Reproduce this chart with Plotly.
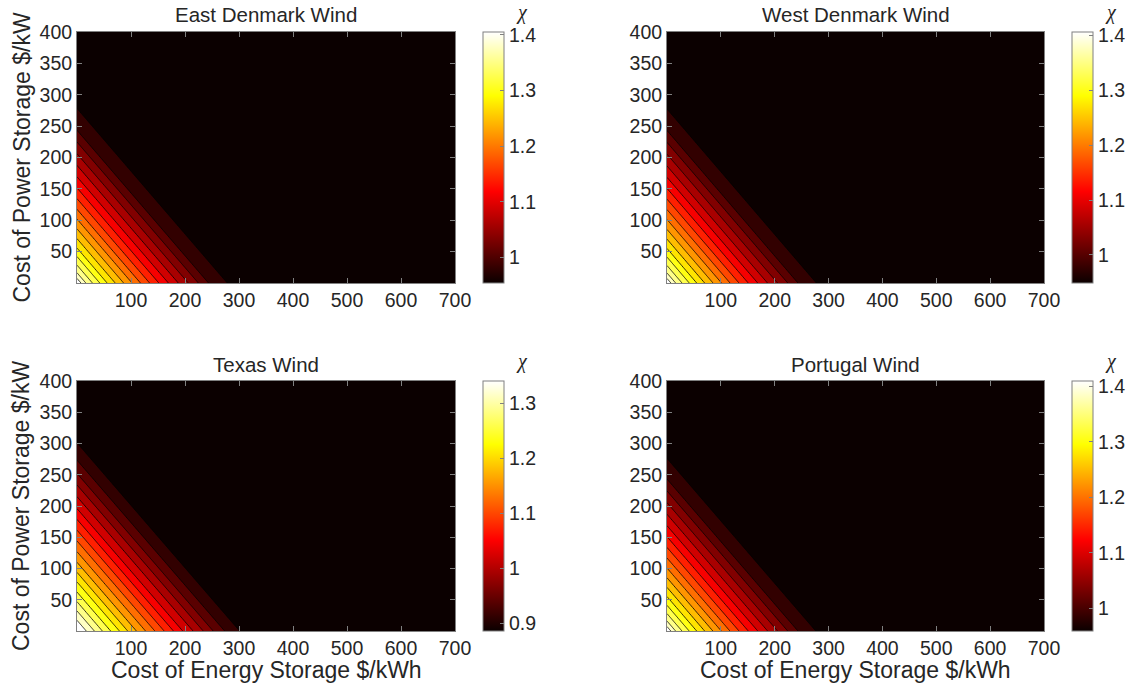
import numpy as np
import plotly.graph_objects as go

W, H = 1130, 684

# ---------------- data ----------------
panel_titles = ["East Denmark Wind", "West Denmark Wind", "Texas Wind", "Portugal Wind"]

energy_cost = np.arange(0, 701, 2.5)   # $/kWh grid
power_cost = np.arange(0, 401, 2.5)    # $/kW grid

# chi read along the total cost (energy + power), contours are diagonal
s_east = [0, 10, 20, 40, 60, 80, 100, 120, 140, 160, 180, 200, 220, 240, 260, 280, 1100]
chi_east = [1.405, 1.370, 1.343, 1.304, 1.265, 1.231, 1.197, 1.163, 1.132, 1.101,
            1.072, 1.043, 1.015, 0.985, 0.965, 0.954, 0.954]

s_west = [0, 10, 20, 40, 60, 80, 100, 120, 140, 160, 180, 200, 220, 240, 260, 279, 1100]
chi_west = [1.406, 1.370, 1.342, 1.302, 1.263, 1.228, 1.194, 1.160, 1.128, 1.097,
            1.067, 1.038, 1.010, 0.980, 0.960, 0.949, 0.949]

s_texas = [0, 20, 40, 60, 80, 100, 120, 140, 160, 180, 200, 220, 240, 260, 281, 302, 1100]
chi_texas = [1.340, 1.310, 1.273, 1.238, 1.205, 1.170, 1.138, 1.107, 1.076, 1.045,
             1.014, 0.987, 0.958, 0.929, 0.905, 0.886, 0.886]

s_portugal = [0, 10, 20, 40, 60, 80, 100, 120, 140, 160, 180, 200, 220, 240, 258, 278, 1100]
chi_portugal = [1.410, 1.374, 1.347, 1.307, 1.269, 1.234, 1.200, 1.167, 1.136, 1.105,
                1.076, 1.047, 1.019, 0.990, 0.970, 0.959, 0.959]

cbar_ticks = [[1, 1.1, 1.2, 1.3, 1.4], [1, 1.1, 1.2, 1.3, 1.4],
              [0.9, 1, 1.1, 1.2, 1.3], [1, 1.1, 1.2, 1.3, 1.4]]
x_ticks = [100, 200, 300, 400, 500, 600, 700]
y_ticks = [50, 100, 150, 200, 250, 300, 350, 400]
n_bands = 17

profiles = [(s_east, chi_east), (s_west, chi_west), (s_texas, chi_texas), (s_portugal, chi_portugal)]

# ---------------- style / layout ----------------
HOT = [[0.0, "rgb(11,0,0)"], [0.365, "rgb(255,0,0)"],
       [0.746, "rgb(255,255,0)"], [1.0, "rgb(255,255,255)"]]
FONT = "Liberation Sans, Arial, Helvetica, sans-serif"
TXT = "#262626"
GRAY = "#808080"

# pixel boxes of plot areas: (left, right, top, bottom)
boxes = [(77, 455, 32, 283), (667, 1044, 32, 283),
         (77, 455, 381, 631), (667, 1044, 381, 631)]
cbar_left = [483, 1072, 483, 1072]


def fx(p):
    return p / W


def fy(p):
    return 1 - p / H


fig = go.Figure()
EX, PY = np.meshgrid(energy_cost, power_cost)
annotations = []
layout_axes = {}

for i in range(4):
    s_pts, chi_pts = profiles[i]
    Z = np.interp(EX + PY, s_pts, chi_pts)
    zmin, zmax = min(chi_pts), max(chi_pts)
    step = (zmax - zmin) / n_bands
    xa = "x" if i == 0 else f"x{i+1}"
    ya = "y" if i == 0 else f"y{i+1}"
    # each band is coloured with its upper level (MATLAB contourf look)
    fig.add_trace(go.Contour(
        x=energy_cost, y=power_cost, z=Z,
        colorscale=HOT, autocontour=False,
        contours=dict(start=zmin + 0.001, end=zmax - step / 2, size=step, coloring="fill"),
        line=dict(color="black", width=0.8),
        showscale=False, hoverinfo="skip", xaxis=xa, yaxis=ya))
    l, r, t, b = boxes[i]
    fig.add_trace(go.Scatter(
        x=[None, None], y=[None, None], mode="markers", showlegend=False,
        hoverinfo="skip", xaxis=xa, yaxis=ya,
        marker=dict(color=[zmin, zmax], cmin=zmin, cmax=zmax, colorscale=HOT,
                    showscale=True,
                    colorbar=dict(x=fx(cbar_left[i]), xanchor="left", y=fy(t), yanchor="top",
                                  len=(b - t) / H, lenmode="fraction", thickness=21,
                                  thicknessmode="pixels", xpad=0, ypad=0,
                                  outlinewidth=1, outlinecolor=GRAY,
                                  tickvals=cbar_ticks[i], ticks="inside", ticklen=4,
                                  tickcolor=GRAY,
                                  tickfont=dict(family=FONT, size=19.5, color=TXT)))))
    xkey = "xaxis" if i == 0 else f"xaxis{i+1}"
    ykey = "yaxis" if i == 0 else f"yaxis{i+1}"
    layout_axes[xkey] = dict(domain=[fx(l), fx(r)], anchor=ya, range=[0, 700],
                             tickvals=x_ticks, ticks="inside", ticklen=5, tickcolor=GRAY,
                             showline=True, linecolor=GRAY, linewidth=1, mirror="ticks",
                             showgrid=False, zeroline=False,
                             tickfont=dict(family=FONT, size=19.5, color=TXT))
    layout_axes[ykey] = dict(domain=[fy(b), fy(t)], anchor=xa, range=[0, 400],
                             tickvals=y_ticks, ticks="inside", ticklen=5, tickcolor=GRAY,
                             showline=True, linecolor=GRAY, linewidth=1, mirror="ticks",
                             showgrid=False, zeroline=False,
                             tickfont=dict(family=FONT, size=19.5, color=TXT))
    # panel title
    annotations.append(dict(text=panel_titles[i], x=fx((l + r) / 2), y=fy(t - 17),
                            xref="paper", yref="paper", showarrow=False,
                            xanchor="center", yanchor="middle",
                            font=dict(family=FONT, size=20.5, color=TXT)))
    # colorbar label chi
    annotations.append(dict(text="<i>χ</i>", x=fx(cbar_left[i] + 39), y=fy(t - 20),
                            xref="paper", yref="paper", showarrow=False,
                            xanchor="center", yanchor="middle",
                            font=dict(family="Liberation Serif, Times New Roman, serif",
                                      size=20, color=TXT)))
    if i in (0, 2):
        annotations.append(dict(text="Cost of Power Storage $/kW", x=fx(21), y=fy((t + b) / 2),
                                xref="paper", yref="paper", showarrow=False, textangle=-90,
                                xanchor="center", yanchor="middle",
                                font=dict(family=FONT, size=23, color=TXT)))
    if i in (2, 3):
        annotations.append(dict(text="Cost of Energy Storage $/kWh", x=fx((l + r) / 2), y=fy(670),
                                xref="paper", yref="paper", showarrow=False,
                                xanchor="center", yanchor="middle",
                                font=dict(family=FONT, size=23, color=TXT)))

fig.update_layout(width=W, height=H, margin=dict(l=0, r=0, t=0, b=0, autoexpand=False),
                  paper_bgcolor="white", plot_bgcolor="rgb(11,0,0)",
                  showlegend=False, annotations=annotations, **layout_axes)

fig.write_html("out.html")
